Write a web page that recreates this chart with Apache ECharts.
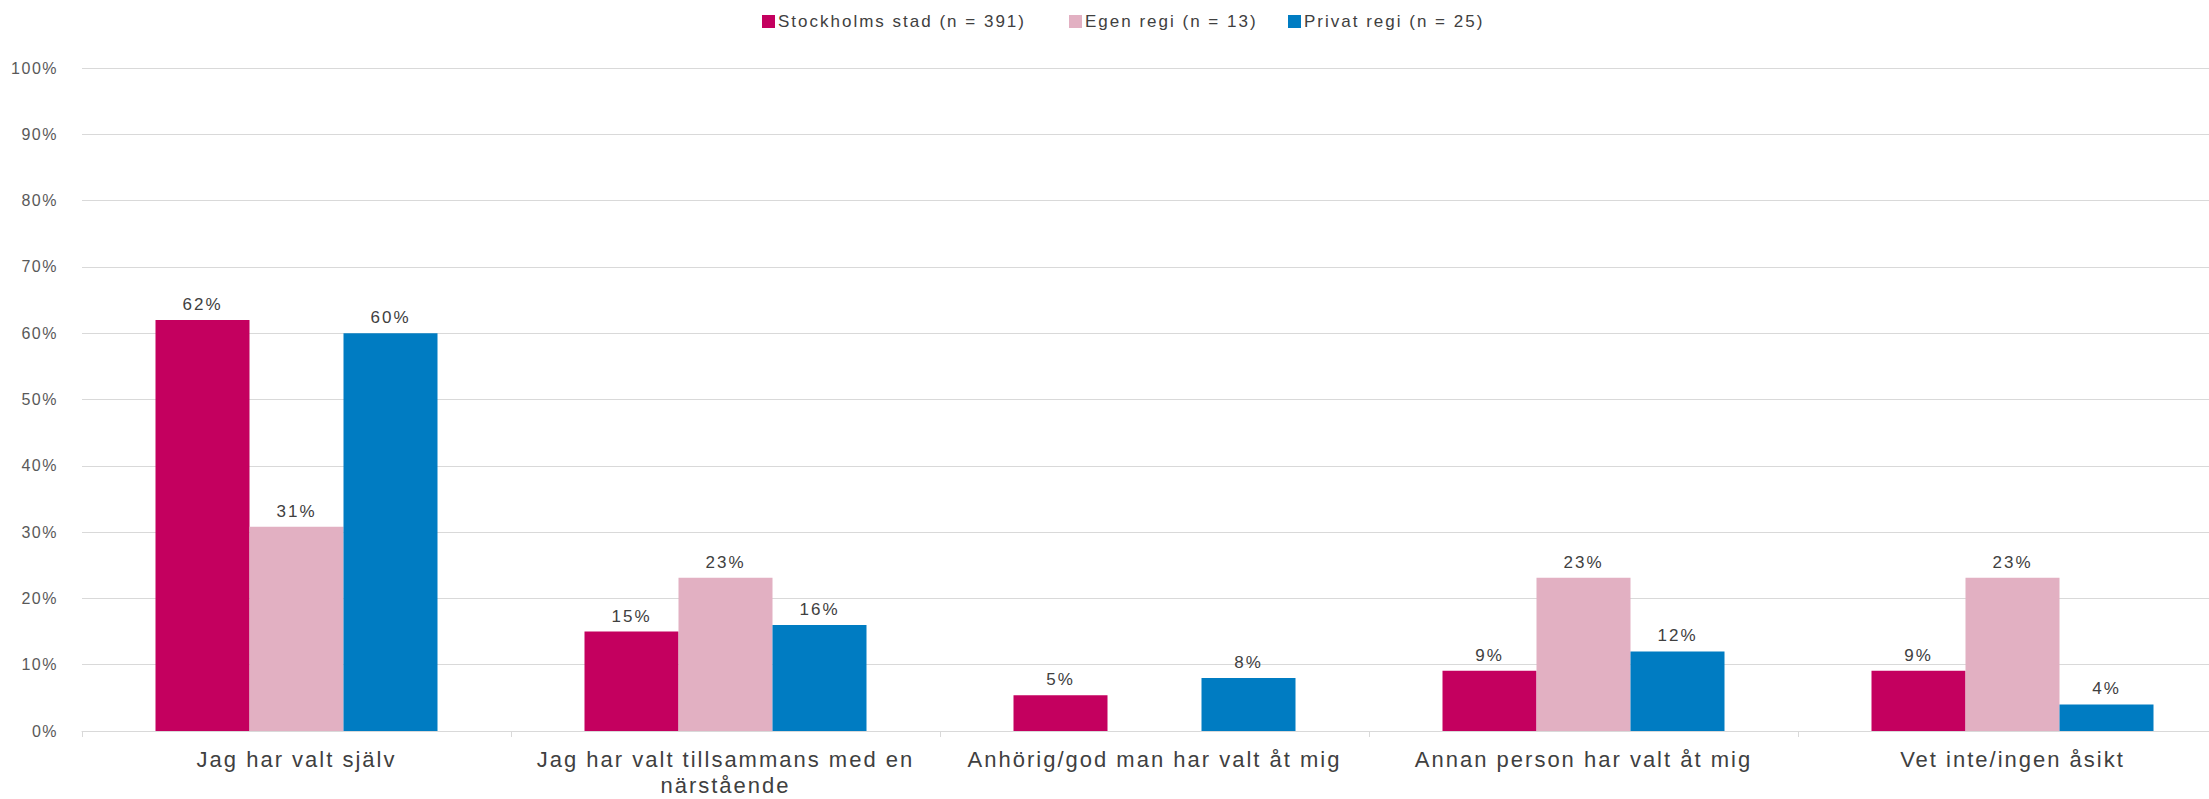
<!DOCTYPE html>
<html>
<head>
<meta charset="utf-8">
<script src="https://cdn.jsdelivr.net/npm/echarts@6/dist/echarts.min.js"></script>
<style>
  html, body { margin: 0; padding: 0; background: #ffffff; overflow: hidden; width: 2209px; height: 799px; }
  #wrap { position: relative; width: 2209px; height: 799px; overflow: hidden; }
  #main { position: absolute; left: 0; top: 0; width: 2227px; height: 799px; }
  #main text { letter-spacing: 2px; }
  #main text[style*="16px"] { letter-spacing: 1.5px; }
</style>
</head>
<body>
<div id="wrap"><div id="main"></div></div>
<script>
const categories = [
  'Jag har valt själv',
  'Jag har valt tillsammans med en\nnärstående',
  'Anhörig/god man har valt åt mig',
  'Annan person har valt åt mig',
  'Vet inte/ingen åsikt'
];
const seriesNames = ['Stockholms stad (n = 391)', 'Egen regi (n = 13)', 'Privat regi (n = 25)'];
const stockholm = [62.0, 15.0, 5.4, 9.1, 9.1];
const egenRegi = [30.8, 23.1, null, 23.1, 23.1];
const privatRegi = [60.0, 16.0, 8.0, 12.0, 4.0];
const yTicks = [0, 10, 20, 30, 40, 50, 60, 70, 80, 90, 100];
const colors = ['#C4005F', '#E2B0C2', '#007CC2'];

const FONT = '"Liberation Sans", Arial, sans-serif';
const chart = echarts.init(document.getElementById('main'), null, { renderer: 'svg' });

function mkSeries(name, data, color) {
  return {
    name: name,
    type: 'bar',
    data: data,
    barWidth: 94,
    barGap: '0%',
    itemStyle: { color: color },
    label: {
      show: true,
      position: 'top',
      distance: 7,
      fontFamily: FONT,
      fontSize: 17,
      color: '#404040',
      formatter: p => (p.value == null ? '' : Math.round(p.value) + '%')
    },
    emphasis: { disabled: true }
  };
}

const legendLefts = [757, 1064, 1283];
function mkLegend(i) {
  return {
    left: legendLefts[i],
    top: 8,
    itemWidth: 13,
    itemHeight: 13,
    itemGap: 10,
    icon: 'rect',
    textStyle: { fontFamily: FONT, fontSize: 17, color: '#404040', padding: [0, 0, 0, -2] },
    data: [seriesNames[i]]
  };
}

chart.setOption({
  animation: false,
  textStyle: { fontFamily: FONT },
  legend: [mkLegend(0), mkLegend(1), mkLegend(2)],
  grid: { left: 82, top: 68, right: 0, height: 663, containLabel: false, outerBoundsMode: 'none' },
  xAxis: {
    type: 'category',
    data: categories,
    axisLine: { show: true, lineStyle: { color: '#d9d9d9', width: 1 } },
    axisTick: { show: true, length: 6, lineStyle: { color: '#d9d9d9' } },
    axisLabel: {
      fontFamily: FONT,
      fontSize: 22,
      color: '#404040',
      lineHeight: 26,
      margin: 15,
      interval: 0
    }
  },
  yAxis: {
    type: 'value',
    min: yTicks[0],
    max: yTicks[yTicks.length - 1],
    interval: 10,
    axisLine: { show: false },
    axisTick: { show: false },
    splitLine: { lineStyle: { color: '#d9d9d9', width: 1 } },
    axisLabel: {
      fontFamily: FONT,
      fontSize: 16,
      color: '#595959',
      margin: 24,
      formatter: v => v + '%'
    }
  },
  series: [
    mkSeries(seriesNames[0], stockholm, colors[0]),
    mkSeries(seriesNames[1], egenRegi, colors[1]),
    mkSeries(seriesNames[2], privatRegi, colors[2])
  ]
});
</script>
</body>
</html>
